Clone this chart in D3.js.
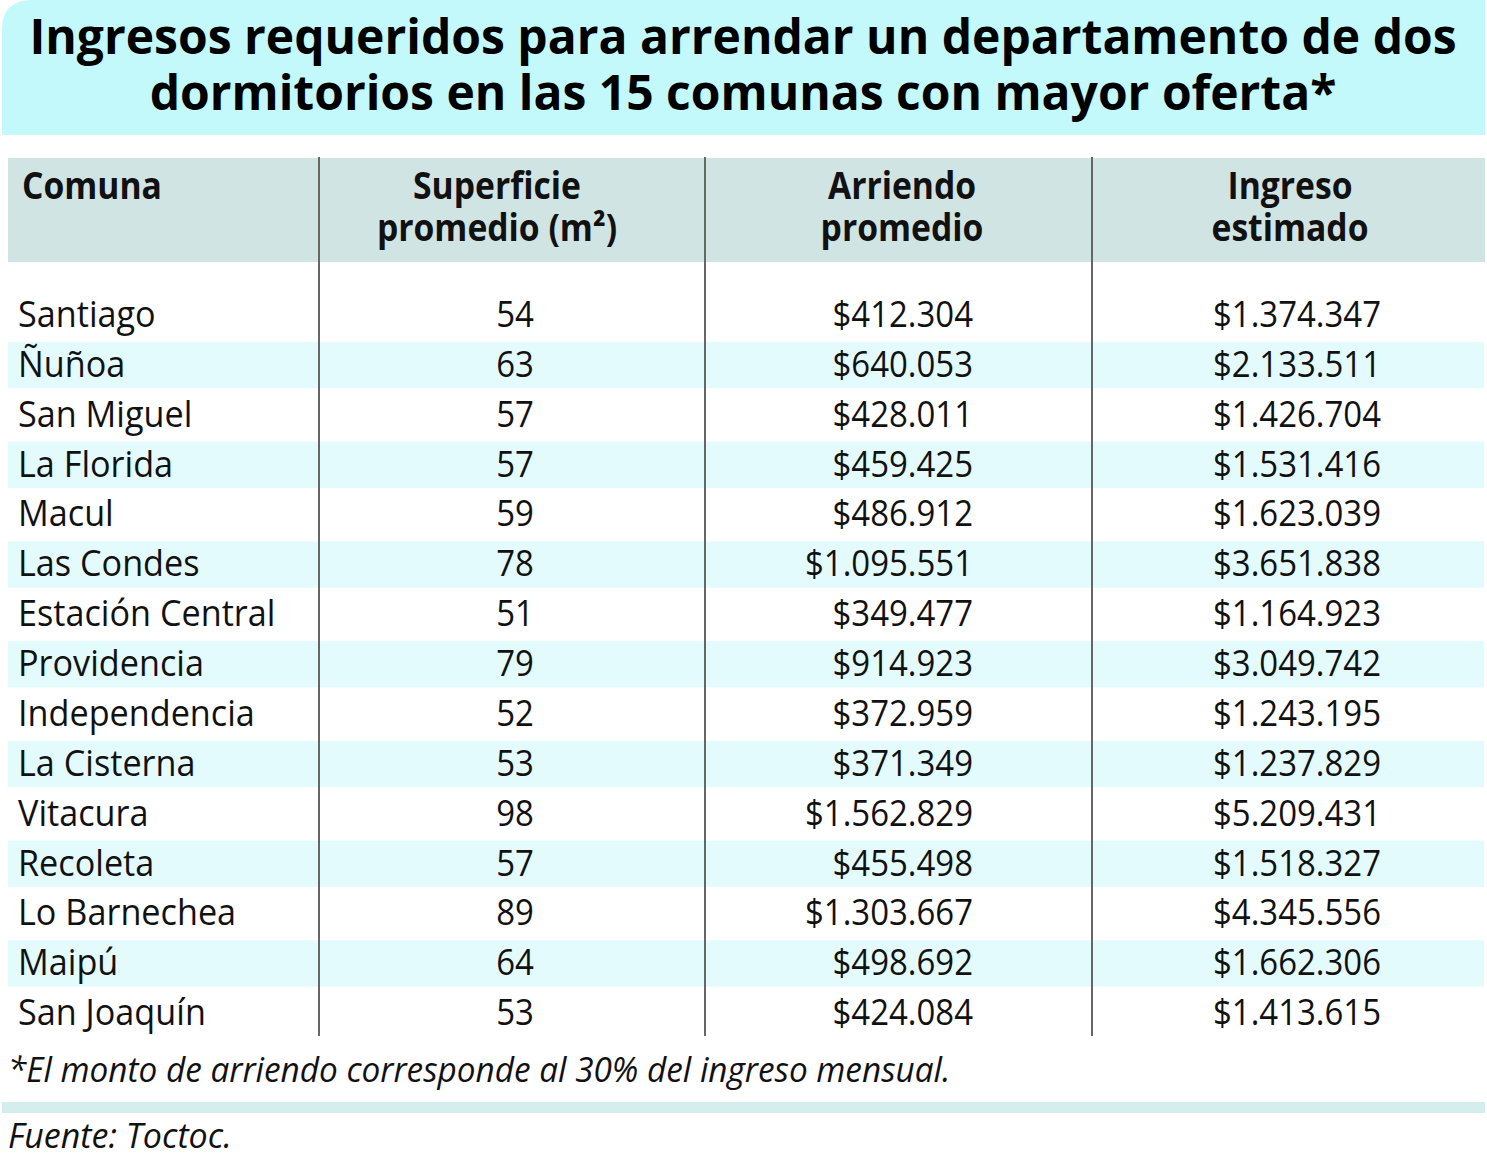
<!DOCTYPE html>
<html>
<head>
<meta charset="utf-8">
<script src="https://cdn.jsdelivr.net/npm/d3@7"></script>
<style>
  html, body { margin: 0; padding: 0; background: #fff; }
  svg { display: block; font-family: "Open Sans", "Noto Sans", sans-serif; }
</style>
</head>
<body>
<svg width="1487" height="1160"></svg>
<script>
// data
const titleLines = ["Ingresos requeridos para arrendar un departamento de dos",
                    "dormitorios en las 15 comunas con mayor oferta*"];
const headers = [["Comuna"], ["Superficie", "promedio (m²)"], ["Arriendo", "promedio"], ["Ingreso", "estimado"]];
const comunas = ["Santiago", "Ñuñoa", "San Miguel", "La Florida", "Macul", "Las Condes",
                 "Estación Central", "Providencia", "Independencia", "La Cisterna",
                 "Vitacura", "Recoleta", "Lo Barnechea", "Maipú", "San Joaquín"];
const superficie = [54, 63, 57, 57, 59, 78, 51, 79, 52, 53, 98, 57, 89, 64, 53];
const arriendo = [412304, 640053, 428011, 459425, 486912, 1095551, 349477, 914923,
                  372959, 371349, 1562829, 455498, 1303667, 498692, 424084];
const ingreso = [1374347, 2133511, 1426704, 1531416, 1623039, 3651838, 1164923, 3049742,
                 1243195, 1237829, 5209431, 1518327, 4345556, 1662306, 1413615];
const nota = "*El monto de arriendo corresponde al 30% del ingreso mensual.";
const fuente = "Fuente: Toctoc.";

const svg = d3.select("svg");

const clp = d3.formatLocale({decimal: ",", thousands: ".", grouping: [3], currency: ["$", ""]});
const money = clp.format("$,d");

const y = d3.scaleBand().domain(comunas).range([292, 1040]);

// title box with rounded top-left corner
const r = 30;
svg.append("path")
    .attr("d", `M2,${r} Q2,0 ${2 + r},0 H1485 V135 H2 Z`)
    .attr("fill", "#c3f9fb");

svg.selectAll("text.title")
    .data(titleLines)
    .enter().append("text")
    .attr("class", "title")
    .attr("transform", (d, i) => `translate(743,${54 + i * 56}) scale(1.0,1)`)
    .attr("text-anchor", "middle")
    .attr("font-size", 48)
    .attr("font-weight", 700)
    .attr("fill", "#000")
    .text(d => d);

// header band
svg.append("rect")
    .attr("x", 8).attr("y", 158)
    .attr("width", 1477).attr("height", 104)
    .attr("fill", "#d1e4e4");

// row stripes
svg.selectAll("rect.stripe")
    .data(comunas.filter((d, i) => i % 2 === 1))
    .enter().append("rect")
    .attr("class", "stripe")
    .attr("x", 8).attr("y", d => y(d))
    .attr("width", 1476).attr("height", y.bandwidth() - 3.5)
    .attr("fill", "#e3fbfc");

// column dividers
svg.selectAll("line.col")
    .data([319, 705, 1092])
    .enter().append("line")
    .attr("x1", d => d).attr("x2", d => d)
    .attr("y1", 157).attr("y2", 1036)
    .attr("stroke", "#666").attr("stroke-width", 2);

// header text, one text per column, lines as tspans
const hx = [{x: 22, a: "start"}, {x: 497, a: "middle"}, {x: 902, a: "middle"}, {x: 1290, a: "middle"}];
const ht = svg.selectAll("text.head")
    .data(headers)
    .enter().append("text")
    .attr("class", "head")
    .attr("transform", (d, c) => `translate(${hx[c].x},199) scale(0.91,1)`)
    .attr("text-anchor", (d, c) => hx[c].a)
    .attr("font-size", 37)
    .attr("font-weight", 700)
    .attr("fill", "#111");
ht.selectAll("tspan")
    .data(d => d)
    .enter().append("tspan")
    .attr("x", 0)
    .attr("dy", (d, i) => i ? 42 : 0)
    .text(d => d);

// body
const cols = [
  {vals: comunas, x: 18, a: "start", f: d => d, s: 0.95},
  {vals: superficie, x: 515, a: "middle", f: d => d, s: 0.915},
  {vals: arriendo, x: 973, a: "end", f: money, s: 0.915},
  {vals: ingreso, x: 1381, a: "end", f: money, s: 0.915}
];
cols.forEach(col => {
  svg.selectAll(null)
      .data(col.vals)
      .enter().append("text")
      .attr("transform", (d, i) => `translate(${col.x},${y(comunas[i]) + 35}) scale(${col.s},1)`)
      .attr("text-anchor", col.a)
      .attr("font-size", 36)
      .attr("fill", "#111")
      .text(col.f);
});

// footnote
svg.append("text")
    .attr("transform", "translate(8,1082) scale(0.98,1)")
    .attr("font-size", 34)
    .attr("font-style", "italic")
    .attr("fill", "#111")
    .text(nota);

svg.append("rect")
    .attr("x", 2).attr("y", 1102)
    .attr("width", 1483).attr("height", 11)
    .attr("fill", "#d4eeee");

svg.append("text")
    .attr("transform", "translate(8,1148) scale(1.0,1)")
    .attr("font-size", 34)
    .attr("font-style", "italic")
    .attr("fill", "#111")
    .text(fuente);
</script>
</body>
</html>
